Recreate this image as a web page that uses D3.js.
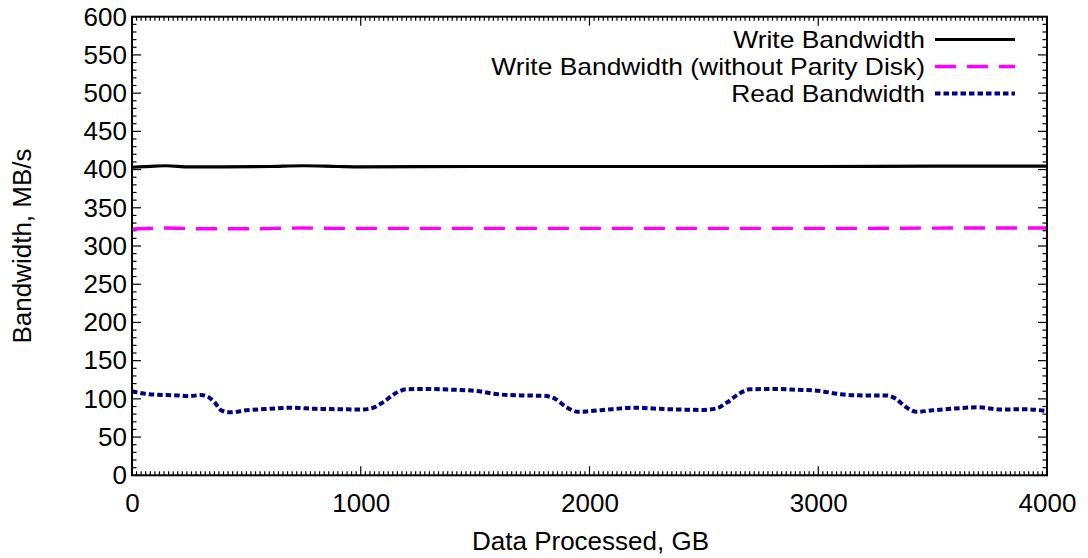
<!DOCTYPE html>
<html>
<head>
<meta charset="utf-8">
<script src="https://cdn.jsdelivr.net/npm/d3@7"></script>
<style>
  html, body { margin: 0; padding: 0; background: #fff; }
  svg { display: block; }
  text { font-family: "Liberation Sans", Arial, Helvetica, sans-serif; fill: #000; }
</style>
</head>
<body>
<svg id="chart" width="1088" height="558"></svg>
<script>
// Write bandwidth with parity disk (GB processed, MB/s)
const writeGB  = [0, 100, 150, 250, 400, 600, 750, 900, 1000, 1500, 2000, 2500, 3000, 3500, 4000];
const writeMBs = [403, 404.5, 405, 403.5, 403.5, 404, 405, 404, 403.5, 404, 404, 404, 404, 404.5, 404.5];

// Write bandwidth without parity disk
const noParityGB  = [0, 150, 300, 500, 750, 900, 1500, 2000, 2500, 3000, 3700, 4000];
const noParityMBs = [322, 323.5, 322.5, 322.5, 323.5, 323, 323, 323, 323, 323, 323.5, 323.5];

// Read bandwidth
const readGB  = [0, 50, 100, 150, 200, 250, 300, 330, 360, 390, 430, 500, 600, 700, 800, 900, 1000, 1050, 1100, 1150, 1200,
                 1300, 1400, 1500, 1600, 1700, 1800, 1850, 1900, 1950, 2000, 2100, 2200, 2300, 2400, 2500, 2560, 2600, 2650,
                 2700, 2800, 2900, 3000, 3100, 3200, 3300, 3340, 3380, 3430, 3500, 3600, 3700, 3800, 3900, 4000];
const readMBs = [110, 107, 105.5, 105, 104.5, 103.5, 105, 103, 96, 85, 82.5, 85, 87, 88.5, 87, 86.5, 86, 88, 96, 107, 112.5,
                 113, 112, 110.5, 106, 104.5, 104, 100, 89, 83, 84, 86.5, 88.5, 87, 86, 85.5, 88, 95, 106,
                 112.5, 113, 112, 110.5, 106, 104.5, 104.5, 100, 90, 83, 85, 87.5, 89, 86, 86.5, 84];

const seriesNames  = ["Write Bandwidth", "Write Bandwidth (without Parity Disk)", "Read Bandwidth"];
const xTickValues  = [0, 1000, 2000, 3000, 4000];
const yTickValues  = d3.range(0, 601, 50);
const xTitle = "Data Processed, GB";
const yTitle = "Bandwidth, MB/s";

const svg = d3.select("#chart");
const m = { left: 132, right: 1047, top: 16.7, bottom: 475.3 };

const x = d3.scaleLinear().domain([0, 4000]).range([m.left, m.right]);
const y = d3.scaleLinear().domain([0, 600]).range([m.bottom, m.top]);

const FONT = 26;
const LEGEND_FONT = 24;
const axisColor = "#000";

// Minor and major ticks on all four sides, pointing inward
const g = svg.append("g");
const xMinor = d3.range(0, 4001, 20).filter(v => v % 1000 !== 0);
const yMinor = d3.range(0, 601, 10).filter(v => v % 50 !== 0);

function xticks(values, len) {
  values.forEach(v => {
    g.append("line").attr("x1", x(v)).attr("x2", x(v)).attr("y1", m.bottom).attr("y2", m.bottom - len)
      .attr("stroke", axisColor).attr("stroke-width", 1.2);
    g.append("line").attr("x1", x(v)).attr("x2", x(v)).attr("y1", m.top).attr("y2", m.top + len)
      .attr("stroke", axisColor).attr("stroke-width", 1.2);
  });
}
function yticks(values, len) {
  values.forEach(v => {
    g.append("line").attr("x1", m.left).attr("x2", m.left + len).attr("y1", y(v)).attr("y2", y(v))
      .attr("stroke", axisColor).attr("stroke-width", 1.2);
    g.append("line").attr("x1", m.right).attr("x2", m.right - len).attr("y1", y(v)).attr("y2", y(v))
      .attr("stroke", axisColor).attr("stroke-width", 1.2);
  });
}
xticks(xMinor, 4);
xticks(xTickValues, 9);
yticks(yMinor, 4.5);
yticks(yTickValues, 9);

// Tick labels via d3 axes (tick marks hidden, labels only)
const xAxis = d3.axisBottom(x).tickValues(xTickValues).tickSize(0).tickPadding(0).tickFormat(d3.format("d"));
svg.append("g").attr("transform", `translate(0,${m.bottom + 18})`).call(xAxis)
  .call(s => s.select(".domain").remove())
  .selectAll("text").attr("font-size", FONT).attr("font-family", "Liberation Sans, Arial, sans-serif")
  .attr("fill", "#000");

const yAxis = d3.axisLeft(y).tickValues(yTickValues).tickSize(0).tickPadding(0).tickFormat(d3.format("d"));
svg.append("g").attr("transform", `translate(${m.left - 5},0)`).call(yAxis)
  .call(s => s.select(".domain").remove())
  .selectAll("text").attr("font-size", FONT).attr("font-family", "Liberation Sans, Arial, sans-serif")
  .attr("fill", "#000");

// Axis titles
svg.append("text").attr("x", (m.left + m.right) / 2 + 1).attr("y", 550)
  .attr("text-anchor", "middle").attr("font-size", FONT).text(xTitle);
svg.append("text").attr("transform", `translate(31,${(m.top + m.bottom) / 2}) rotate(-90)`)
  .attr("text-anchor", "middle").attr("font-size", FONT).text(yTitle);

// Data lines
const line = d3.line().x(d => x(d[0])).y(d => y(d[1])).curve(d3.curveMonotoneX);
const series = [
  { name: seriesNames[0], pts: d3.zip(writeGB, writeMBs), color: "#000000", width: 3.2, dash: null },
  { name: seriesNames[1], pts: d3.zip(noParityGB, noParityMBs), color: "#ff00ff", width: 3.4, dash: "21,11" },
  { name: seriesNames[2], pts: d3.zip(readGB, readMBs), color: "#000080", width: 4, dash: "5.5,3" }
];

const plot = svg.append("g");
series.forEach(s => {
  plot.append("path").datum(s.pts).attr("d", line)
    .attr("fill", "none").attr("stroke", s.color).attr("stroke-width", s.width)
    .attr("stroke-dasharray", s.dash);
});

// Legend (top right, text right-aligned before sample line);
// compact rows, glyphs widened slightly so labels keep their span
const legend = svg.append("g");
series.forEach((s, i) => {
  const ly = 39.5 + i * 27;
  const t = legend.append("text").attr("x", 925).attr("y", ly).attr("dy", "0.35em")
    .attr("text-anchor", "end").attr("font-size", LEGEND_FONT).text(s.name);
  const w = t.node().getComputedTextLength();
  t.attr("textLength", w * 26.4 / LEGEND_FONT).attr("lengthAdjust", "spacingAndGlyphs");
  legend.append("line").attr("x1", 935).attr("x2", 1015).attr("y1", ly).attr("y2", ly)
    .attr("stroke", s.color).attr("stroke-width", s.width).attr("stroke-dasharray", s.dash);
});

// Frame
svg.append("rect").attr("x", m.left).attr("y", m.top)
  .attr("width", m.right - m.left).attr("height", m.bottom - m.top)
  .attr("fill", "none").attr("stroke", axisColor).attr("stroke-width", 2);
</script>
</body>
</html>
